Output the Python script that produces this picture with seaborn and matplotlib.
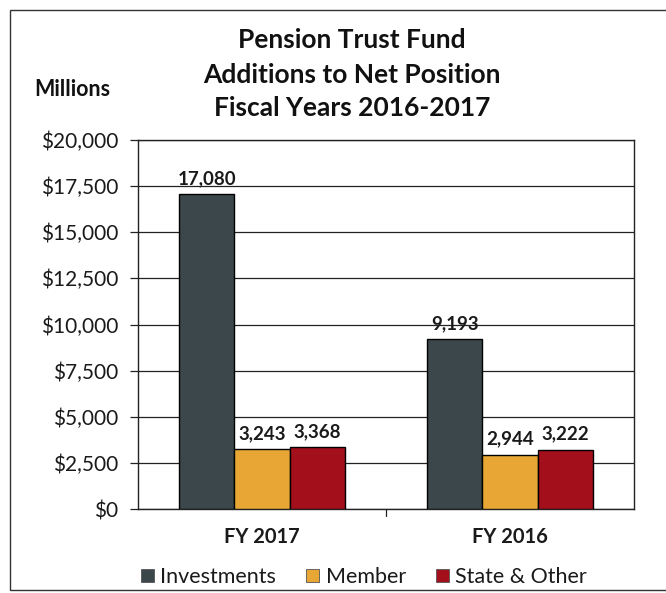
import matplotlib
matplotlib.use("Agg")
import matplotlib.pyplot as plt
import seaborn as sns
import pandas as pd
from matplotlib.patches import Rectangle
from matplotlib.ticker import FuncFormatter, MultipleLocator

years = ["FY 2017", "FY 2016"]
sources = ["Investments", "Member", "State & Other"]
investments = [17080, 9193]
member = [3243, 2944]
state_other = [3368, 3222]
colors = ["#3b474b", "#e8a735", "#a3101c"]

rows = []
for series_name, vals in zip(sources, [investments, member, state_other]):
    for yr, v in zip(years, vals):
        rows.append({"Year": yr, "Source": series_name, "Value": v})
df = pd.DataFrame(rows)

sns.set_theme(style="white")
plt.rcParams["font.family"] = ["Lato", "DejaVu Sans"]

fig = plt.figure(figsize=(6.66, 5.93), dpi=100)
ax = fig.add_axes([138 / 666, 1 - 509 / 593, (634 - 138) / 666, (509 - 140) / 593])

sns.barplot(data=df, x="Year", y="Value", hue="Source", order=years,
            hue_order=sources, palette=colors, width=0.67, saturation=1,
            edgecolor="black", linewidth=1.0, ax=ax, legend=False, zorder=3)

ax.set_xlim(-0.5, len(years) - 0.5)
ax.set_ylim(0, 20000)
ax.yaxis.set_major_locator(MultipleLocator(2500))
ax.yaxis.set_major_formatter(FuncFormatter(lambda v, p: f"${v:,.0f}"))
ax.grid(axis="y", color="#222222", linewidth=0.9, zorder=0)
ax.set_axisbelow(True)
for s in ax.spines.values():
    s.set_color("#222222")
    s.set_linewidth(1.0)
ax.set_xlabel("")
ax.set_ylabel("")
ax.tick_params(axis="y", left=True, length=6, width=0.9, color="#222222",
               labelsize=15, pad=8, labelcolor="#1a1a1a")
ax.tick_params(axis="x", bottom=False, labelsize=14.5, pad=7, labelcolor="#1a1a1a")
for lbl in ax.get_xticklabels():
    lbl.set_fontweight("bold")
# separator tick between the two fiscal years
ax.plot([0.5, 0.5], [0, -0.018], transform=ax.transAxes,
        color="#222222", linewidth=0.9, clip_on=False)

for cont in ax.containers:
    ax.bar_label(cont, labels=[f"{v:,.0f}" for v in cont.datavalues],
                 padding=5, fontsize=13.5, fontweight="bold", color="#1a1a1a")

for txt, ypx in [("Pension Trust Fund", 40), ("Additions to Net Position", 75),
                 ("Fiscal Years 2016-2017", 108)]:
    fig.text(352 / 666, 1 - ypx / 593, txt, ha="center", va="center",
             fontsize=19, fontweight="bold", color="#111111")
fig.text(72 / 666, 1 - 89 / 593, "Millions", ha="center", va="center",
         fontsize=15.5, fontweight="bold", color="#111111")

handles = [Rectangle((0, 0), 1, 1, facecolor=c, edgecolor="#555555", linewidth=0.6)
           for c in colors]
fig.legend(handles, sources, loc="center", bbox_to_anchor=(364 / 666, 1 - 577 / 593),
           ncol=3, frameon=False, fontsize=15.5, handlelength=0.6, handleheight=0.6,
           handletextpad=0.3, columnspacing=1.4, labelcolor="#1a1a1a")

# outer frame around the chart
fig.add_artist(Rectangle((10 / 666, 1 - 590 / 593), 660 / 666, 580 / 593,
                         transform=fig.transFigure, fill=False,
                         edgecolor="#333333", linewidth=1.0))

fig.savefig("out.png", dpi=100, facecolor="white")
